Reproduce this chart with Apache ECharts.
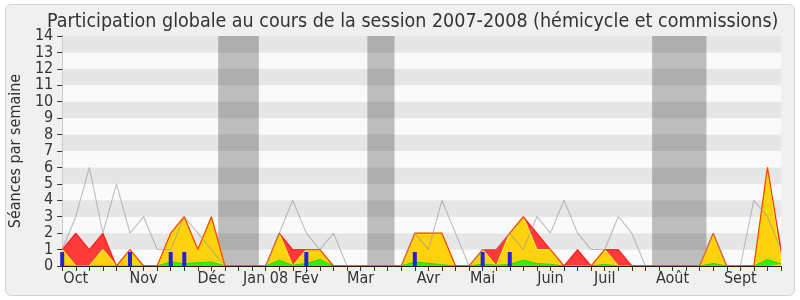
<!DOCTYPE html>
<html>
<head>
<meta charset="utf-8">
<script src="https://cdn.jsdelivr.net/npm/echarts@6/dist/echarts.min.js"></script>
<style>
html,body{margin:0;padding:0;background:#ffffff;}
#frame{position:absolute;left:5px;top:4px;width:788px;height:290px;border:1px solid #d4d4d4;border-radius:6px;background:#f0f0f0;}
#chart{position:absolute;left:0;top:0;width:800px;height:300px;}
</style>
</head>
<body>
<div id="frame"></div>
<div id="chart"></div>
<script>
// Week index 0..53 (Oct 2007 -> Sept 2008)
const totalSessions = [1,3,6,2,5,2,3,1,1,3,2,1,0,0,0,0,2,4,2,1,2,0,0,0,0,0,2,1,4,2,0,1,1,2,1,3,2,4,2,1,1,3,2,0,0,0,0,0,2,0,0,4,3,1];
const presence      = [1,2,1,2,0,1,0,0,2,3,1,3,0,0,0,0,2,1,1,1,0,0,0,0,0,0,2,2,2,0,0,1,1,2,3,2,1,0,1,0,1,1,0,0,0,0,0,0,2,0,0,0,6,1];
const participation = [1,0,0,1,0,1,0,0,2,3,1,3,0,0,0,0,2,0,1,1,0,0,0,0,0,0,2,2,2,0,0,1,0,2,3,1,1,0,0,0,1,0,0,0,0,0,0,0,2,0,0,0,6,0.4];
const hemicycle     = [0,0,0,0,0,0,0,0,0.25,0.15,0.2,0.25,0,0,0,0,0.35,0.05,0.15,0.4,0,0,0,0,0,0,0.25,0.16,0.08,0,0,0.12,0.05,0.1,0.35,0.15,0.1,0,0,0,0.1,0,0,0,0,0,0,0,0.15,0,0,0,0.4,0.12];
const questions     = [0.85,0,0,0,0,0.85,0,0,0.85,0.85,0,0,0,0,0,0,0,0,0.85,0,0,0,0,0,0,0,0.85,0,0,0,0,0.85,0,0.85,0,0,0,0,0,0,0,0,0,0,0,0,0,0,0,0,0,0,0,0];
const monthLabels = ['Oct','Nov','Déc','Jan 08','Fév','Mar','Avr','Mai','Juin','Juil','Août','Sept'];
const monthWeeks  = [1,6,11,15,18,22,27,31,36,40,45,50];
const vacations   = [[12,14],[23,24],[44,47]];

const nWeeks = totalSessions.length;
const pairs = arr => arr.map((v,i)=>[i,v]);
const labelFor = {};
monthWeeks.forEach((w,k)=>{ labelFor[w] = monthLabels[k]; });

const FONT = "'DejaVu Sans Condensed','DejaVu Sans',sans-serif";

const chart = echarts.init(document.getElementById('chart'), null, {renderer:'canvas'});
chart.setOption({
  animation:false,
  backgroundColor:'transparent',
  title:{
    text:'Participation globale au cours de la session 2007-2008 (hémicycle et commissions)',
    left:42, top:7,
    textStyle:{fontFamily:FONT,fontSize:19.5,fontWeight:'normal',color:'#333'}
  },
  grid:{left:62,right:19,top:36,bottom:34},
  xAxis:[{
    type:'value', min:0, max:nWeeks-1, interval:1,
    axisLine:{show:true,lineStyle:{color:'#2a1a1a',width:1}},
    axisTick:{show:true,length:5,lineStyle:{color:'#333'}},
    axisLabel:{show:true,margin:5,fontFamily:FONT,fontSize:16,color:'#333',
      formatter:v=>labelFor[v]||'', showMinLabel:true, showMaxLabel:true},
    splitLine:{show:false},
    z:10
  },{
    type:'value', position:'top', min:0, max:nWeeks-1, interval:1,
    axisLine:{show:false},
    axisTick:{show:true,inside:true,length:1,lineStyle:{color:'#444'}},
    axisLabel:{show:false},
    splitLine:{show:false}
  }],
  yAxis:[{
    type:'value', min:0, max:14, interval:1,
    name:'Séances par semaine', nameLocation:'middle', nameGap:33, nameRotate:90,
    nameTextStyle:{fontFamily:FONT,fontSize:16,color:'#333'},
    axisLine:{show:true,lineStyle:{color:'#333'}},
    axisTick:{show:true,length:5,lineStyle:{color:'#333'}},
    axisLabel:{margin:9,fontFamily:FONT,fontSize:16,color:'#333'},
    splitLine:{show:false},
    splitArea:{show:true,areaStyle:{color:['#fafafa','#e6e6e6']}}
  },{
    type:'value', position:'right', min:0, max:14, interval:1,
    axisLine:{show:true,lineStyle:{color:'#cccccc'}},
    axisTick:{show:false}, axisLabel:{show:false}, splitLine:{show:false}
  }],
  series:[
    {
      name:'bands', type:'line', data:[], silent:true,
      markArea:{silent:true,itemStyle:{color:'rgba(0,0,0,0.245)'},
        data:vacations.map(v=>[{xAxis:v[0]-0.5},{xAxis:v[1]+0.5}])}
    },
    {
      name:'presence', type:'line', data:pairs(presence), showSymbol:false,
      lineStyle:{width:0,color:'#ff3333'}, areaStyle:{color:'#ff3a3a',opacity:1}, z:3
    },
    {
      name:'participation', type:'line', data:pairs(participation), showSymbol:false,
      lineStyle:{width:1.2,color:'#ffee22'}, areaStyle:{color:'#ffd20e',opacity:1}, z:4
    },
    {
      name:'hemicycle', type:'line', data:pairs(hemicycle), showSymbol:false,
      lineStyle:{width:1,color:'#22dd00'}, areaStyle:{color:'#33ee11',opacity:1}, z:5
    },
    {
      name:'presenceLine', type:'line', data:pairs(presence), showSymbol:false,
      lineStyle:{width:1.3,color:'rgba(255,0,0,0.7)'}, z:6
    },
    {
      name:'total', type:'line', data:pairs(totalSessions), showSymbol:false,
      lineStyle:{width:1.1,color:'rgba(150,150,150,0.6)'}, z:7
    },
    {
      name:'questions', type:'bar', data:pairs(questions), barWidth:4,
      itemStyle:{color:'#2222dd'}, z:8
    }
  ]
});
</script>
</body>
</html>
